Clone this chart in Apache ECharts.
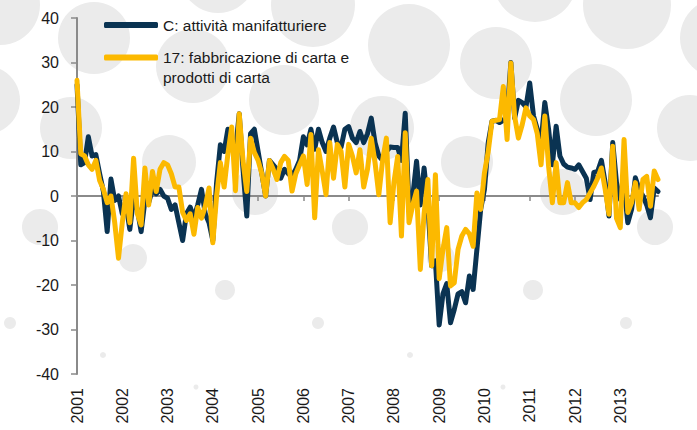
<!DOCTYPE html>
<html>
<head>
<meta charset="utf-8">
<script src="https://cdn.jsdelivr.net/npm/echarts@6/dist/echarts.min.js"></script>
<style>
  html, body { margin: 0; padding: 0; background: #fff; }
  #main { width: 697px; height: 430px; }
</style>
</head>
<body>
<div id="main"></div>
<script>
// anni sull'asse x (dati mensili da gen 2001 a nov 2013)
const years = ['2001', '2002', '2003', '2004', '2005', '2006', '2007',
  '2008', '2009', '2010', '2011', '2012', '2013'];

// C: attività manifatturiere
const manifatturiere = [
  25, 7, 7.5, 13.3, 9, 9.3, 5, 1, -8, 3.8, -1, 0,                 // 2001
  -4, -2, -7.5, -0.5, -3, -8, -1, -1.5, 1.5, 0.5, 1.5, 0,         // 2002
  -0.5, -3, -2, -6, -10, -4, -2.5, -5, -2, 1.5, -4, -6,           // 2003
  -10, 3, 11.5, 10, 15, 12, 10, 18.5, 6, -4.5, 14, 15,            // 2004
  10, 5, 0, 8, 7, 6, 4, 6, 5, 4.5, 6, 8,                          // 2005
  13.3, 11.5, 15, 10.5, 15, 12, 10, 13, 15.5, 12, 11, 15,         // 2006
  15.6, 13, 12, 14.5, 12, 14, 17.5, 12, 9, 8, 10, 11,             // 2007
  10.9, 10.9, 8, 18.6, -2.7, 0, 7.8, -2, 6.3, -2, -15.7, -14.6,   // 2008
  -29, -22, -19.7, -28.5, -25.5, -22, -21.5, -24, -18, -21, -12, -3, // 2009
  1.5, 12, 16.8, 17, 16.5, 17, 18, 30, 17.5, 21.5, 21, 20,        // 2010
  25.4, 18, 15, 12, 21, 15, 7, 15.7, 9, 7.2, 6.5, 6.3,            // 2011
  6, 7, 5.5, 4, -0.8, 5.3, 5.5, 8, 3, -4.5, 12, 3,                // 2012
  -0.8, 2, -6, -3, 4.1, 1.5, 0, -2, -4.9, 1.8, 1                  // 2013
];

// 17: fabbricazione di carta e prodotti di carta
const carta = [
  26, 9.5, 9, 7, 6, 8, 3.5, 1.5, -1.5, 0, -6, -14,                // 2001
  -6, 0.5, -6, 8.5, -4, -6.5, 6.3, -2, 5.5, 1, 6, 7.5,            // 2002
  7, 5, 2, 2, -3.7, -5.5, -4, -8.6, -2.6, -5, -2.3, 1.8,          // 2003
  -10.5, 0, 7.5, 2, 9.5, 15.5, 1.2, 18.5, 8, 1, 13, 9.8,          // 2004
  8, 5, 0, 8, 6, 3.7, 7.5, 8.9, 8, 1.1, 5, 7,                     // 2005
  9, 2.6, 13.8, -4.9, 10.4, 5.6, 0.3, 12, 4, 11.6, 10, 2,         // 2006
  11.6, 9, 5.2, 10.4, 2, 6, 13, 7.5, 0.3, 8, 13, -6,              // 2007
  3, 8.9, -9, 14.2, -6, -2, 1.1, -16.5, -4, 3.7, -15.7, 4.8,      // 2008
  -18.6, -12, -7.1, -20.2, -19.5, -12, -9, -7.5, -8.5, -11.3, 0.7, -3, // 2009
  5.2, 10, 16.8, 17, 17.2, 24.6, 12.7, 29.9, 17.9, 13, 16, 19.8,  // 2010
  18, 17.2, 14, 7, 18, 6.7, -1.5, 7.5, -1.5, -1.5, 3, -1.5,       // 2011
  -1.5, -2.6, -1.5, -0.8, 0.7, 2.2, 4, 6.3, 1.5, -4.1, 11.2, -5,  // 2012
  -7.1, 12.7, -3.7, -1.5, 3, -3, 3.7, 4.4, -2.3, 5.6, 3.7         // 2013
];

const seriesNames = ['C: attività manifatturiere', '17: fabbricazione di carta e prodotti di carta'];

// etichette mensili della categoria
let months = [];
years.forEach(function (y) {
  for (let m = 1; m <= 12; m++) months.push(y + '-' + (m < 10 ? '0' + m : m));
});
months = months.slice(0, manifatturiere.length);

// cerchi grigi decorativi dello sfondo [cx, cy, r]
const decor = [
  [218, -25, 38], [535, -20, 42],
  [0, 5, 40], [313, 5, 42], [627, 5, 44],
  [94, 38, 36], [409, 45, 41], [720, 38, 40],
  [193, 66, 37], [496, 63, 36],
  [-14, 100, 34], [284, 100, 35], [596, 100, 36],
  [71, 128, 31], [382, 128, 32], [690, 128, 33],
  [169, 162, 27], [467, 162, 26],
  [255, 192, 23], [563, 192, 23],
  [40, 227, 18], [350, 227, 18], [655, 227, 18],
  [133, 258, 14], [441, 258, 14],
  [225, 290, 10], [533, 290, 10],
  [10, 323, 6], [318, 323, 6], [626, 323, 6],
  [103, 355, 3], [410, 355, 3],
  [196, 387, 2.5], [503, 387, 2.5]
];

const isYearStart = function (index) { return index % 12 === 0; };
const axisGrey = '#8a8a8a';
const navy = '#0a3352';
const yellow = '#fcb900';
const font = 'Liberation Sans, Arial, Helvetica, sans-serif';

const chart = echarts.init(document.getElementById('main'), null, { renderer: 'svg' });

const legendBase = {
  left: 104,
  padding: 0,
  selectedMode: false,
  icon: 'roundRect',
  itemWidth: 54,
  itemHeight: 6
};

const option = {
  backgroundColor: '#ffffff',
  animation: false,
  graphic: decor.map(function (c) {
    return {
      type: 'circle',
      z: -10,
      silent: true,
      shape: { cx: c[0], cy: c[1], r: c[2] },
      style: { fill: '#ebebeb' }
    };
  }),
  legend: [
    Object.assign({}, legendBase, {
      data: [seriesNames[0]],
      top: 16,
      textStyle: { fontFamily: font, fontSize: 15.5, color: '#1a1a1a', lineHeight: 18 }
    }),
    Object.assign({}, legendBase, {
      data: [seriesNames[1]],
      top: 27.5,
      // riga vuota iniziale: la prima riga di testo resta allineata al simbolo
      formatter: function (name) { return '\n' + name.replace('carta e ', 'carta e\n'); },
      textStyle: { fontFamily: font, fontSize: 15.5, color: '#1a1a1a', lineHeight: 20 }
    })
  ],
  grid: {
    left: 77,
    right: 39,
    top: 18,
    bottom: 56,
    containLabel: false
  },
  xAxis: [
    {
      type: 'category',
      data: months,
      boundaryGap: false,
      position: 'bottom',
      axisLine: { show: false, onZero: false },
      axisTick: { show: false },
      splitLine: { show: false },
      axisLabel: {
        interval: isYearStart,
        rotate: 90,
        margin: 14,
        fontFamily: font,
        fontSize: 16,
        color: '#1a1a1a',
        formatter: function (value) { return value.substring(0, 4); }
      }
    },
    {
      // linea dello zero con le tacche annuali
      type: 'category',
      data: months,
      boundaryGap: false,
      position: 'top',
      axisLine: { show: true, onZero: true, lineStyle: { color: axisGrey, width: 2 } },
      axisTick: { show: true, inside: true, length: 5, interval: isYearStart, lineStyle: { color: axisGrey, width: 1.5 } },
      axisLabel: { show: false },
      splitLine: { show: false }
    }
  ],
  yAxis: {
    type: 'value',
    min: -40,
    max: 40,
    interval: 10,
    axisLine: { show: true, lineStyle: { color: axisGrey, width: 2 } },
    axisTick: { show: true, length: 6, lineStyle: { color: axisGrey, width: 1.5 } },
    splitLine: { show: false },
    axisLabel: {
      margin: 18,
      fontFamily: font,
      fontSize: 16,
      color: '#1a1a1a'
    }
  },
  series: [
    {
      name: seriesNames[0],
      type: 'line',
      data: manifatturiere,
      symbol: 'none',
      lineStyle: { color: navy, width: 5, join: 'round', cap: 'round' },
      itemStyle: { color: navy }
    },
    {
      name: seriesNames[1],
      type: 'line',
      data: carta,
      symbol: 'none',
      lineStyle: { color: yellow, width: 5, join: 'round', cap: 'round' },
      itemStyle: { color: yellow }
    }
  ]
};

chart.setOption(option);
</script>
</body>
</html>
